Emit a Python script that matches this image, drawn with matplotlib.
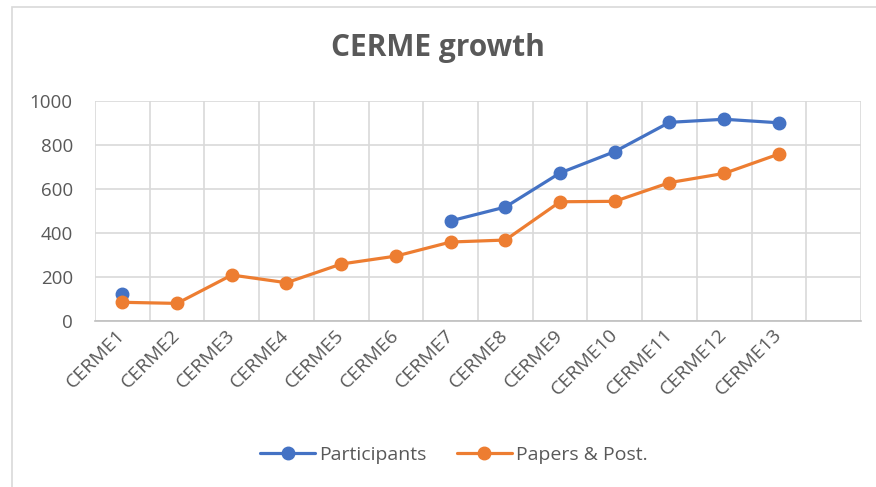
import numpy as np
import matplotlib.pyplot as plt
from matplotlib.patches import Rectangle

categories = ['CERME1', 'CERME2', 'CERME3', 'CERME4', 'CERME5', 'CERME6', 'CERME7',
              'CERME8', 'CERME9', 'CERME10', 'CERME11', 'CERME12', 'CERME13', '']
participants = [121, np.nan, np.nan, np.nan, np.nan, np.nan, 455,
                518, 673, 770, 903, 917, 901, np.nan]
papers = [85, 80, 209, 174, 259, 295, 359, 368, 542, 544, 629, 671, 759, np.nan]

blue = '#4472C4'
orange = '#ED7D31'
text_col = '#595959'
grid_col = '#D9D9D9'

plt.rcParams['font.family'] = ['Open Sans', 'DejaVu Sans']

fig = plt.figure(figsize=(8.76, 4.87), dpi=100)
fig.patches.append(Rectangle((12 / 876, -0.1), 1.1, 1 - 7 / 487 + 0.1,
                             transform=fig.transFigure, fill=False,
                             edgecolor=grid_col, linewidth=1.2))
ax = fig.add_axes([95 / 876, 1 - 321 / 487, (861 - 95) / 876, (321 - 101) / 487])

x = np.arange(len(categories))
ax.plot(x, participants, color=blue, lw=2.3, marker='o', ms=9, label='Participants',
        solid_capstyle='round', zorder=3)
ax.plot(x, papers, color=orange, lw=2.3, marker='o', ms=9, label='Papers & Post.',
        solid_capstyle='round', zorder=3)

ax.set_xlim(-0.5, len(categories) - 0.5)
ax.set_ylim(0, 1000)
ax.set_yticks(range(0, 1001, 200))
ax.set_xticks(x)
ax.set_xticklabels(categories, rotation=45, ha='right', va='center',
                   rotation_mode='anchor', fontsize=14, color=text_col)
ax.set_xticks(np.arange(-0.5, len(categories)), minor=True)
ax.tick_params(axis='x', which='major', length=0, pad=8)
ax.tick_params(axis='x', which='minor', length=0)
ax.tick_params(axis='y', length=0, pad=16, labelsize=13.5, labelcolor=text_col)
ax.grid(axis='x', which='minor', color=grid_col, lw=1.2)
ax.grid(axis='y', color=grid_col, lw=1.2)
ax.set_axisbelow(True)
for s in ['top', 'right', 'left']:
    ax.spines[s].set_visible(False)
ax.spines['bottom'].set_color('#BFBFBF')
ax.spines['bottom'].set_linewidth(1.2)

fig.text(0.5, 1 - 48 / 487, 'CERME growth', ha='center', va='center',
         fontsize=21.5, fontweight='bold', color=text_col)

fig.legend(loc='center', bbox_to_anchor=(0.518, 1 - 455 / 487), ncol=2, frameon=False,
           fontsize=14, labelcolor=text_col, handlelength=2.8, columnspacing=1.6,
           handletextpad=0.2)

fig.savefig('out.png', dpi=100)
